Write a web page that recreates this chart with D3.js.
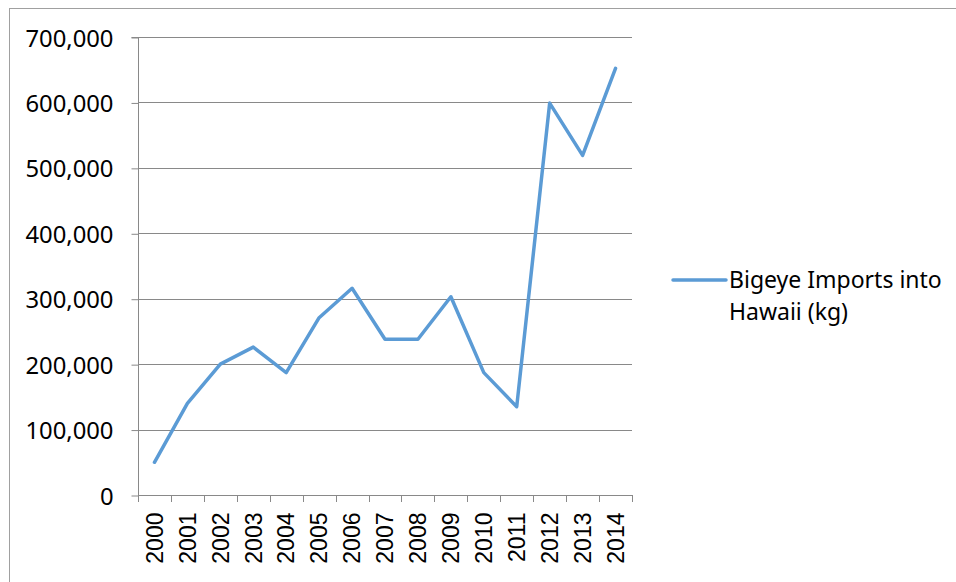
<!DOCTYPE html>
<html><head><meta charset="utf-8">
<script src="https://cdn.jsdelivr.net/npm/d3@7"></script>
<style>body{margin:0;background:#fff}svg{display:block}</style>
</head><body>
<svg id="c" width="956" height="582"></svg>
<script>
const years = ["2000","2001","2002","2003","2004","2005","2006","2007","2008","2009","2010","2011","2012","2013","2014"];
const imports = [50000,140000,200000,226000,187000,271000,316000,238000,238000,303000,187000,135000,599000,519000,652000];
const yTicks = [0,100000,200000,300000,400000,500000,600000,700000];
const seriesName = ["Bigeye Imports into","Hawaii (kg)"];

const svg = d3.select("#c");
const L = 138, R = 632, T = 37, B = 495;
const x = d3.scaleBand().domain(years).range([L, R]);
const y = d3.scaleLinear().domain([0, 700000]).range([B, T]);
const grey = "#898989";

svg.append("rect").attr("x",9.5).attr("y",8.5).attr("width",960).attr("height",590)
  .attr("fill","none").attr("stroke","#a0a0a0").attr("stroke-width",1);

// gridlines
svg.append("g").selectAll("line").data(yTicks.slice(1)).join("line")
  .attr("x1",L).attr("x2",R).attr("y1",d=>Math.round(y(d))+0.5).attr("y2",d=>Math.round(y(d))+0.5)
  .attr("stroke",grey).attr("stroke-width",1);

// y axis
const yAxis = svg.append("g").attr("transform",`translate(${L+0.5},0.5)`)
  .call(d3.axisLeft(y).tickValues(yTicks).tickFormat(d3.format(",")).tickSize(7).tickPadding(18));
yAxis.select(".domain").attr("stroke",grey).attr("d",`M-7,${T}H0V${B}`);
yAxis.selectAll(".tick line").attr("stroke",grey);
yAxis.selectAll(".tick text").attr("font-family","'Noto Sans', 'Open Sans', sans-serif")
  .attr("font-size","23.8px").attr("fill","#000").attr("dy","0.36em");

// x axis
const xAxis = svg.append("g").attr("transform",`translate(0,${B+0.5})`)
  .call(d3.axisBottom(x).tickSize(0).tickFormat(d=>d));
xAxis.select(".domain").attr("stroke",grey).attr("d",`M${L},0H${R}`);
xAxis.selectAll(".tick line").remove();
xAxis.selectAll(".tick text").attr("font-family","'Liberation Sans', Arial, sans-serif")
  .attr("font-size","23px").attr("fill","#000")
  .attr("transform","rotate(-90)").attr("text-anchor","end")
  .attr("x",-17).attr("y",0).attr("dy","0.36em");
// boundary ticks
const bounds = years.map(d=>x(d)).concat([R]);
svg.append("g").selectAll("line").data(bounds).join("line")
  .attr("x1",d=>Math.round(d)+0.5).attr("x2",d=>Math.round(d)+0.5)
  .attr("y1",B).attr("y2",B+7).attr("stroke",grey);

// line
const line = d3.line().x((d,i)=>x(years[i])+x.bandwidth()/2).y(d=>y(d));
svg.append("path").datum(imports).attr("d",line).attr("fill","none")
  .attr("stroke","#5B9BD5").attr("stroke-width",3.5).attr("stroke-linejoin","round").attr("stroke-linecap","round");

// legend
svg.append("line").attr("x1",673).attr("x2",726).attr("y1",280).attr("y2",280)
  .attr("stroke","#5B9BD5").attr("stroke-width",3.5).attr("stroke-linecap","round");
svg.append("text").attr("font-family","'Noto Sans', 'Open Sans', sans-serif").attr("font-size","23px").attr("fill","#000")
  .selectAll("tspan").data(seriesName).join("tspan")
  .attr("x",729).attr("y",(d,i)=>288+i*32).text(d=>d);
</script>
</body></html>
